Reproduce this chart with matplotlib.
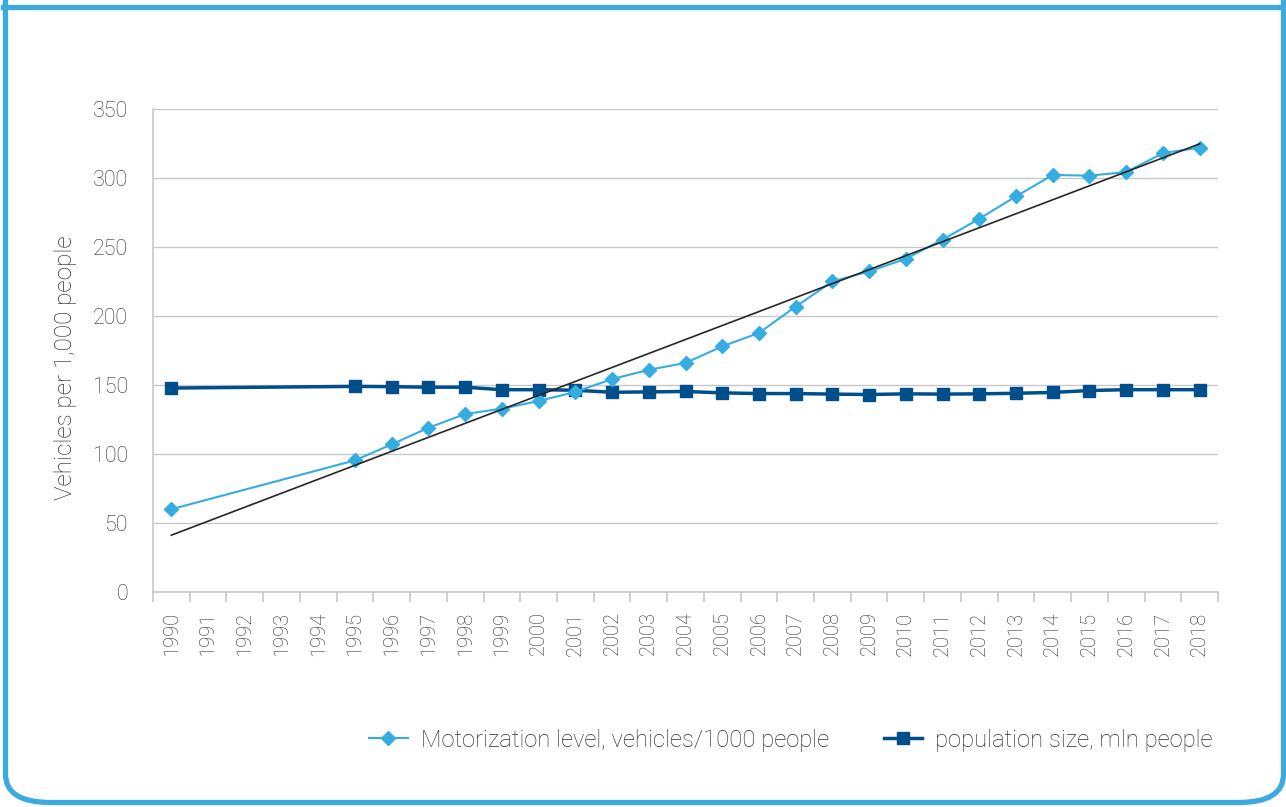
from matplotlib import pyplot as plt
from matplotlib.patches import FancyBboxPatch
from matplotlib.lines import Line2D
import numpy as np

years = [str(y) for y in range(1990, 2019)]

# годы с данными (1991-1994 пустые)
data_years = [1990] + list(range(1995, 2019))
motorization = [60, 95.4, 107, 119, 129, 132.8, 138.4, 145, 154.3, 161, 166,
                178, 187.7, 206.8, 225, 232.3, 241.5, 255.3, 270.5, 286.7,
                302.2, 301.7, 304.3, 318, 322]
population = [147.8, 149, 148.8, 148.4, 148.4, 146.6, 146.6, 146.2, 144.7,
              145.0, 145.3, 144.3, 143.8, 143.8, 143.4, 143.1, 143.6, 143.4,
              143.6, 144.0, 144.6, 146.0, 146.6, 146.6, 146.6]

c_light = '#35ADE0'
c_dark = '#004F8A'
c_text = '#2E2E2E'
c_grid = '#C8C8C8'

plt.rcParams['font.family'] = ['Roboto', 'DejaVu Sans']
plt.rcParams['font.weight'] = 'light'
plt.rcParams['axes.labelweight'] = 'light'

fig = plt.figure(figsize=(12.86, 8.07), dpi=100)
ax = fig.add_axes([153/1286, 1 - 592/807, 1065/1286, 483/807])

X = np.array([y - 1990 for y in data_years])
M = np.array(motorization)

ax.plot(X, M, color=c_light, linewidth=1.5, marker='D', markersize=7.5,
        zorder=4, label='Motorization level, vehicles/1000 people')
ax.plot(X, population, color=c_dark, linewidth=2.5, marker='s', markersize=8,
        zorder=3, label='population size, mln people')

# линейный тренд
a, b = np.polyfit(X, M, 1)
xt = np.array([0, 28])
ax.plot(xt, a * xt + b, color='#262626', linewidth=1.2, zorder=5)

ax.set_xlim(-0.5, 28.5)
ax.set_ylim(0, 350)
ax.set_yticks(range(0, 351, 50))
ax.set_xticks(range(29))
ax.set_xticklabels(years, rotation=90)
ax.set_xticks(np.arange(-0.5, 29, 1), minor=True)
ax.tick_params(axis='x', which='major', length=0, pad=14, labelsize=14.5, labelcolor=c_text)
ax.tick_params(axis='x', which='minor', length=7, color=c_grid, width=1.2)
ax.tick_params(axis='y', length=0, pad=18, labelsize=15.5, labelcolor=c_text)
ax.yaxis.grid(True, color=c_grid, linewidth=1)
ax.set_axisbelow(True)
for s in ['top', 'right']:
    ax.spines[s].set_visible(False)
for s in ['left', 'bottom']:
    ax.spines[s].set_color(c_grid)
    ax.spines[s].set_linewidth(1.2)

ax.set_ylabel('Vehicles per 1,000 people', fontsize=17.5, color=c_text)
ax.yaxis.set_label_coords(-0.071, 0.464)

handles = [
    Line2D([], [], color=c_light, linewidth=1.5, marker='D', markersize=7.5),
    Line2D([], [], color=c_dark, linewidth=2.5, marker='s', markersize=8),
]
fig.legend(handles, ['Motorization level, vehicles/1000 people',
                     'population size, mln people'],
           loc='center', bbox_to_anchor=(791/1286, 1 - 740/807), ncol=2,
           frameon=False, fontsize=17.2, labelcolor=c_text, handlelength=1.6,
           columnspacing=2.3, handletextpad=0.55)

# рамка
W, H = 1286, 807
frame = FancyBboxPatch((5.5 / W, 4.5 / H), 1278 / W, 900 / H,
                       boxstyle='round,pad=0,rounding_size=0.035',
                       transform=fig.transFigure, fill=False,
                       edgecolor='#3AAAE0', linewidth=3.8, clip_on=True)
fig.patches.append(frame)
fig.add_artist(Line2D([3 / W, 1 - 2 / W], [1 - 6.5 / H, 1 - 6.5 / H],
                      transform=fig.transFigure, color='#3AAAE0', linewidth=3.8))

fig.savefig('out.png', dpi=100)
